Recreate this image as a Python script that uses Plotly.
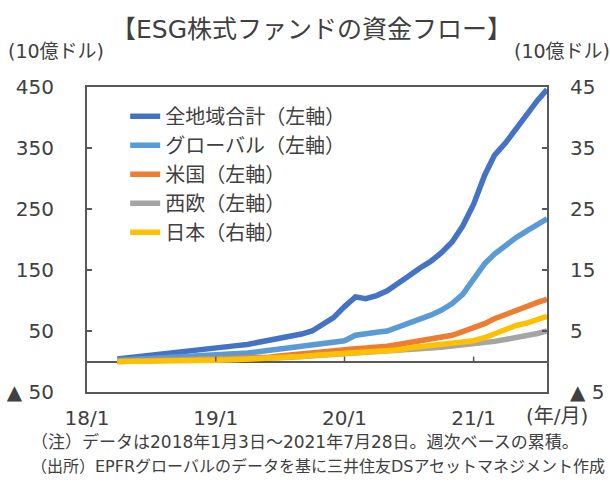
import plotly.graph_objects as go

# ---- data ----
month_dates = [f"{2018 + (m // 12)}-{(m % 12) + 1:02d}-01" for m in range(4, 43)]
dates = ["2018-03-28"] + month_dates + ["2021-07-28"]

all_regions = [4, 6, 8, 10, 12, 14, 15, 17, 19, 22, 24, 26, 28, 31, 34, 37, 41, 45, 50,
               60, 72, 90, 106, 103, 108, 116, 127, 140, 153, 164, 178, 196, 222, 258,
               305, 338, 358, 382, 406, 428, 446]
global_funds = [2, 3, 4, 5, 6, 7, 8, 9, 10, 11, 12, 13, 14, 16, 18, 20, 22, 24, 26,
                28, 30, 34, 43, 46, 48, 50, 56, 62, 69, 76, 84, 95, 110, 134,
                160, 176, 190, 203, 214, 225, 234]
usa = [0, 0.5, 1, 1, 1.5, 2, 2, 2.5, 3, 3, 4, 4.5, 5, 6, 7, 9, 11, 13, 15,
       17, 18, 20, 21, 22, 23, 25, 28, 31, 33, 36, 39, 43, 49, 55,
       62, 70, 77, 85, 91, 97, 102]
w_europe = [0, 0.3, 0.5, 0.8, 1, 1.2, 1.5, 1.8, 2, 2.5, 3, 3.5, 4, 4.5, 5, 6, 7, 8, 9,
            10, 11, 12, 13, 14, 15, 16, 17.5, 19, 20.5, 22, 23.5, 25, 26.5, 28,
            30, 33, 36, 39, 42, 46, 50]
japan = [0, 0, 0.02, 0.05, 0.07, 0.1, 0.1, 0.12, 0.15, 0.2, 0.25, 0.3, 0.4, 0.45, 0.5,
         0.6, 0.7, 0.8, 1.0, 1.1, 1.2, 1.3, 1.4, 1.5, 1.6, 1.7, 1.9, 2.2, 2.4, 2.6,
         2.7, 2.9, 3.1, 3.4, 3.9, 4.5, 5.2, 5.9, 6.3, 6.9, 7.4]

series_names = ["全地域合計（左軸）", "グローバル（左軸）", "米国（左軸）", "西欧（左軸）", "日本（右軸）"]
colors = ["#4472C4", "#5B9BD5", "#ED7D31", "#A5A5A5", "#FFC000"]

x_tick_vals = ["2018-01-01", "2019-01-01", "2020-01-01", "2021-01-01"]
x_tick_text = ["18/1", "19/1", "20/1", "21/1"]
y_left_vals = [-50, 50, 150, 250, 350, 450]
y_left_text = ["▲ 50", "50", "150", "250", "350", "450"]
y_right_vals = [-5, 5, 15, 25, 35, 45]
y_right_text = ["▲ 5", "5", "15", "25", "35", "45"]

FONT = "DejaVu Sans, Noto Sans CJK JP"
TXT = "#404040"
AX = "#595959"

fig = go.Figure()
left_series = [all_regions, global_funds, usa, w_europe]
for vals, name, col in zip(left_series, series_names[:4], colors[:4]):
    fig.add_trace(go.Scatter(x=dates, y=vals, name=name, mode="lines",
                             line=dict(color=col, width=5.5), yaxis="y"))
fig.add_trace(go.Scatter(x=dates, y=japan, name=series_names[4], mode="lines",
                         line=dict(color=colors[4], width=5.5), yaxis="y2"))

# small tick marks on the zero line
shapes = []
for d in x_tick_vals[1:]:
    shapes.append(dict(type="line", xref="x", yref="y", x0=d, x1=d, y0=0, y1=8,
                       line=dict(color=AX, width=1.5)))

fig.update_layout(
    width=610, height=486,
    margin=dict(l=87, r=63, t=87, b=94, autoexpand=False),
    paper_bgcolor="white", plot_bgcolor="white",
    font=dict(family=FONT, color=TXT, size=20),
    showlegend=True,
    legend=dict(x=0.083, y=0.968, xanchor="left", yanchor="top",
                bgcolor="rgba(0,0,0,0)", font=dict(size=20, family=FONT, color=TXT),
                tracegroupgap=0, itemwidth=30),
    xaxis=dict(type="date", range=["2018-01-01", "2021-07-28"],
               tickvals=x_tick_vals, ticktext=x_tick_text, ticks="",
               showline=True, linecolor=AX, linewidth=2, mirror=True,
               showgrid=False, zeroline=False, tickfont=dict(size=20),
               ticklabelstandoff=7, automargin=False),
    yaxis=dict(range=[-50, 450], tickvals=y_left_vals, ticktext=y_left_text,
               ticks="inside", ticklen=5, tickcolor=AX, tickwidth=1.5,
               showline=True, linecolor=AX, linewidth=2, mirror=True,
               showgrid=False, zeroline=True, zerolinecolor=AX, zerolinewidth=2,
               tickfont=dict(size=20), ticklabelstandoff=27, automargin=False),
    yaxis2=dict(range=[-5, 45], tickvals=y_right_vals, ticktext=y_right_text,
                overlaying="y", side="right",
                ticks="inside", ticklen=5, tickcolor=AX, tickwidth=1.5,
                showline=True, linecolor=AX, linewidth=2,
                showgrid=False, zeroline=False,
                tickfont=dict(size=20), ticklabelstandoff=17, automargin=False),
    shapes=shapes,
    annotations=[
        dict(text="【ESG株式ファンドの資金フロー】", xref="paper", yref="paper",
             x=0.487, y=1.187, xanchor="center", yanchor="middle", showarrow=False,
             font=dict(size=25)),
        dict(text="(10億ドル)", xref="paper", yref="paper", x=-0.067, y=1.118,
             xanchor="center", yanchor="middle", showarrow=False, font=dict(size=19)),
        dict(text="(10億ドル)", xref="paper", yref="paper", x=1.033, y=1.118,
             xanchor="center", yanchor="middle", showarrow=False, font=dict(size=19)),
        dict(text="(年/月)", xref="paper", yref="paper", x=1.022, y=-0.078,
             xanchor="center", yanchor="middle", showarrow=False, font=dict(size=20)),
        dict(text="（注）データは2018年1月3日～2021年7月28日。週次ベースの累積。",
             xref="paper", yref="paper", x=-0.126, y=-0.164,
             xanchor="left", yanchor="middle", showarrow=False, font=dict(size=17)),
        dict(text="（出所）EPFRグローバルのデータを基に三井住友DSアセットマネジメント作成",
             xref="paper", yref="paper", x=-0.126, y=-0.243,
             xanchor="left", yanchor="middle", showarrow=False, font=dict(size=16)),
    ],
)

fig.write_html("out.html", config={"displayModeBar": False},
               post_script="document.body.style.margin='0';document.body.style.padding='0';")
